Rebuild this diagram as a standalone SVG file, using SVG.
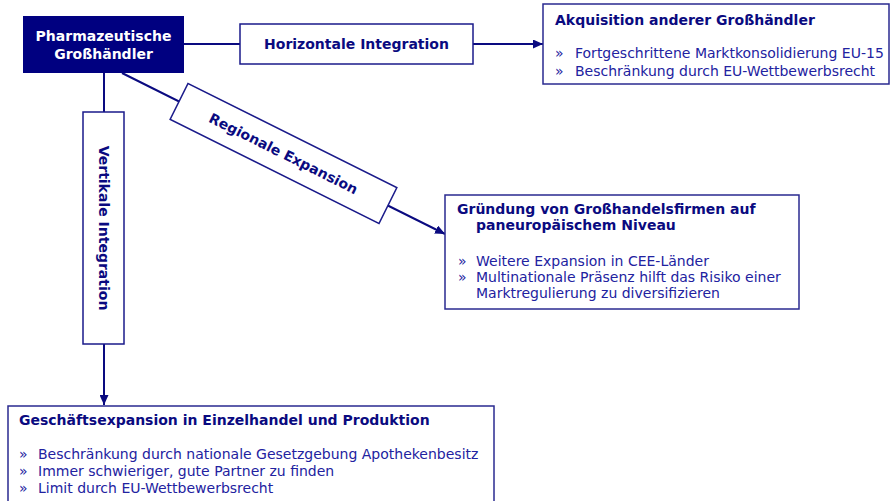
<svg xmlns="http://www.w3.org/2000/svg" width="891" height="501" viewBox="0 0 891 501">
<style>
text{font-family:"DejaVu Sans","Liberation Sans",sans-serif;font-size:14px}
.box{fill:#fff;stroke:#2a2a90;stroke-width:1.5}
.lbl{fill:#fff;stroke:#1a1a8a;stroke-width:1.5}
.conn{stroke:#0a0a80;stroke-width:2;fill:none}
.t{fill:#0a0a80;font-weight:bold}
.b{fill:#2222a0}
.w{fill:#fff;font-weight:bold;text-anchor:middle}
.c{text-anchor:middle}
</style>
<defs>
<marker id="arr" markerUnits="userSpaceOnUse" markerWidth="10" markerHeight="9" refX="10" refY="4.5" orient="auto">
<path d="M0,0 L10,4.5 L0,9 z" fill="#0a0a80"/>
</marker>
</defs>
<g id="connectors">
<line class="conn" x1="184" y1="44" x2="543" y2="44" marker-end="url(#arr)"/>
<line class="conn" x1="104" y1="73" x2="104" y2="405" marker-end="url(#arr)"/>
<line class="conn" x1="122" y1="73" x2="445" y2="234" marker-end="url(#arr)"/>
<g id="label-horizontal">
<rect class="lbl" x="240" y="24" width="233" height="40"/>
<text class="t c" x="356.5" y="49">Horizontale Integration</text>
</g>
<g id="label-vertical" transform="translate(103.5,228) rotate(90)">
<rect class="lbl" x="-116" y="-20.5" width="232" height="41"/>
<text class="t c" x="0" y="5">Vertikale Integration</text>
</g>
<g id="label-regional" transform="translate(283.5,153.5) rotate(26.5)">
<rect class="lbl" x="-116.7" y="-20" width="233.4" height="40"/>
<text class="t c" x="0" y="5">Regionale Expansion</text>
</g>
</g>
<g id="node-grosshaendler">
<rect x="23" y="16" width="161" height="57" fill="#000080"/>
<text class="w" x="103.5" y="41">Pharmazeutische</text>
<text class="w" x="103.5" y="59">Großhändler</text>
</g>
<g id="node-akquisition">
<rect class="box" x="543" y="4" width="346" height="80"/>
<text class="t" x="555" y="25">Akquisition anderer Großhändler</text>
<text class="b" x="555" y="58">»</text>
<text class="b" x="575" y="58">Fortgeschrittene Marktkonsolidierung EU-15</text>
<text class="b" x="555" y="76">»</text>
<text class="b" x="575" y="76">Beschränkung durch EU-Wettbewerbsrecht</text>
</g>
<g id="node-gruendung">
<rect class="box" x="445" y="195" width="354" height="114"/>
<text class="t" x="457" y="214">Gründung von Großhandelsfirmen auf</text>
<text class="t" x="476" y="230">paneuropäischem Niveau</text>
<text class="b" x="458" y="266">»</text>
<text class="b" x="476" y="266">Weitere Expansion in CEE-Länder</text>
<text class="b" x="458" y="282">»</text>
<text class="b" x="476" y="282">Multinationale Präsenz hilft das Risiko einer</text>
<text class="b" x="476" y="298">Marktregulierung zu diversifizieren</text>
</g>
<g id="node-geschaeftsexpansion">
<rect class="box" x="8" y="406" width="486" height="110"/>
<text class="t" x="19" y="425">Geschäftsexpansion in Einzelhandel und Produktion</text>
<text class="b" x="19" y="459">»</text>
<text class="b" x="38" y="459">Beschränkung durch nationale Gesetzgebung Apothekenbesitz</text>
<text class="b" x="19" y="476">»</text>
<text class="b" x="38" y="476">Immer schwieriger, gute Partner zu finden</text>
<text class="b" x="19" y="493">»</text>
<text class="b" x="38" y="493">Limit durch EU-Wettbewerbsrecht</text>
</g>
</svg>
